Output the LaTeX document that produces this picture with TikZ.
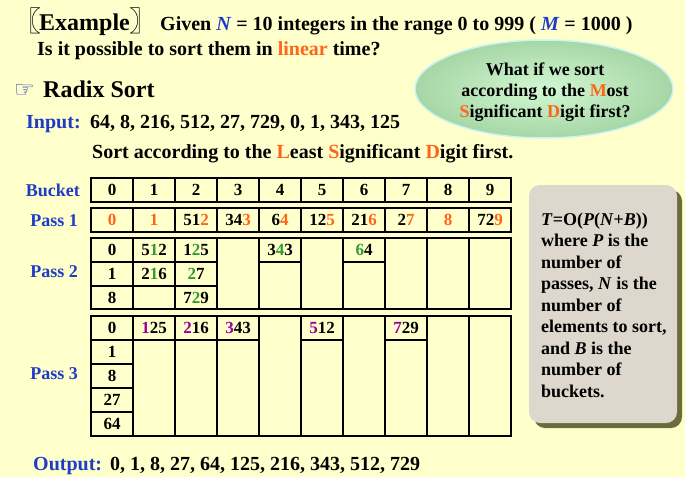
\documentclass[tikz,border=0pt]{standalone}
\usepackage{fontspec}
\setmainfont{Liberation Serif}
\newfontfamily\cjkf{Noto Sans CJK SC}
\newfontfamily\djv{DejaVu Sans}
\usetikzlibrary{shapes.geometric}
\definecolor{bgy}{HTML}{FFFFCC}
\definecolor{orng}{HTML}{FF6418}
\definecolor{blu}{HTML}{1E3CC8}
\definecolor{grn}{HTML}{339933}
\definecolor{pur}{HTML}{990099}
\definecolor{boxc}{HTML}{DDD7CD}
\definecolor{shdc}{HTML}{6B6B3B}
\definecolor{elin}{HTML}{D2F8D2}
\definecolor{elout}{HTML}{A6D6A6}
\definecolor{elbd}{HTML}{C8F4F4}
\newcommand\hlO[1]{\textcolor{orng}{#1}}
\newcommand\hlG[1]{\textcolor{grn}{#1}}
\newcommand\hlP[1]{\textcolor{pur}{#1}}
\tikzset{
  txt/.style={anchor=base west,inner sep=0pt,font=\bfseries\fontsize{20}{24}\selectfont},
  big/.style={anchor=base west,inner sep=0pt,font=\bfseries\fontsize{24}{28}\selectfont},
  cell/.style={inner sep=0pt,font=\bfseries\fontsize{17}{20}\selectfont},
  rowlab/.style={anchor=east,inner sep=0pt,text=blu,font=\bfseries\fontsize{18}{20}\selectfont},
  grid/.style={line width=2.6pt,line cap=rect},
  brk/.style={inner sep=0pt,font=\cjkf\fontsize{28}{30}\selectfont},
}
\begin{document}
\begin{tikzpicture}[x=1pt,y=-1pt]
\useasboundingbox (0,0) rectangle (685,477);
\fill[bgy] (0,0) rectangle (685,477);
% title
\node[brk,anchor=base east] (lbr) at (42,31) {〖};
\node[big] (ex) at (39,30) {Example};
\node[brk,anchor=base west] (rbr) at (129,31) {〗};
\node[txt] (given) at (160,30) {Given \textcolor{blu}{\textit{N}} = 10 integers in the range 0 to 999 ( \textcolor{blu}{\textit{M}} = 1000 )};
\node[txt] (q1) at (37,55) {Is it possible to sort them in \hlO{linear} time?};
\node[anchor=base west,inner sep=0pt,text=blu,font=\djv\fontsize{23}{26}\selectfont] (hand) at (14,97) {☞};
\node[big] (radix) at (43,97) {Radix Sort};
\node[txt,text=blu] (inp) at (26,128) {Input:};
\node[txt] (inpv) at (90,128) {64, 8, 216, 512, 27, 729, 0, 1, 343, 125};
\node[txt] (lsd) at (92,158) {Sort according to the \hlO{L}east \hlO{S}ignificant \hlO{D}igit first.};
\node[txt,text=blu] (outl) at (33,470) {Output:};
\node[txt] (outv) at (110,470) {0, 1, 8, 27, 64, 125, 216, 343, 512, 729};
% ellipse
\shade[inner color=elin, outer color=elout] (544,89) ellipse [x radius=129, y radius=49];
\draw[elbd,line width=1.5pt] (544,89) ellipse [x radius=129, y radius=49];
\node[anchor=base,inner sep=0pt,align=center,font=\bfseries\fontsize{18}{21}\selectfont] (msd) at (545,117) {What if we sort\\according to the \hlO{M}ost\\\hlO{S}ignificant \hlO{D}igit first?};
% complexity box
\fill[shdc,rounded corners=11] (534,190) rectangle (682,428);
\fill[boxc,rounded corners=11] (529,185) rectangle (677,423);
\node[anchor=base west,inner sep=0pt,align=left,font=\bfseries\fontsize{18}{21.5}\selectfont] (cx) at (541,397) {\textit{T}=O(\textit{P}(\textit{N}+\textit{B}))\\where \textit{P} is the\\number of\\passes, \textit{N} is the\\number of\\elements to sort,\\and \textit{B} is the\\number of\\buckets.};
% row labels
\node[rowlab] (lb) at (80,190) {Bucket};
\node[rowlab] (l1) at (78,221) {Pass 1};
\node[rowlab] (l2) at (78,272) {Pass 2};
\node[rowlab] (l3) at (78,374) {Pass 3};
% grids
\draw[grid] (91,178) rectangle (511,202);
\draw[grid] (91,208) rectangle (511,232);
\draw[grid] (91,238) rectangle (511,309);
\draw[grid] (91,316) rectangle (511,436);
\foreach \i in {1,...,9}{
  \draw[grid] ({91+42*\i},178) -- ({91+42*\i},202);
  \draw[grid] ({91+42*\i},208) -- ({91+42*\i},232);
  \draw[grid] ({91+42*\i},238) -- ({91+42*\i},309);
  \draw[grid] ({91+42*\i},316) -- ({91+42*\i},436);
}
\draw[grid] (91,262) -- (217,262);
\draw[grid] (259,262) -- (301,262);
\draw[grid] (343,262) -- (385,262);
\draw[grid] (91,286) -- (217,286);
\draw[grid] (91,340) -- (259,340);
\draw[grid] (301,340) -- (343,340);
\draw[grid] (385,340) -- (427,340);
\draw[grid] (91,364) -- (133,364);
\draw[grid] (91,388) -- (133,388);
\draw[grid] (91,412) -- (133,412);
% bucket header
\foreach \i in {0,...,9}{ \node[cell] (b\i) at ({112+42*\i},190) {\i}; }
% pass 1
\node[cell] (p10) at (112,220) {\hlO{0}};
\node[cell] (p11) at (154,220) {\hlO{1}};
\node[cell] (p12) at (196,220) {51\hlO{2}};
\node[cell] (p13) at (238,220) {34\hlO{3}};
\node[cell] (p14) at (280,220) {6\hlO{4}};
\node[cell] (p15) at (322,220) {12\hlO{5}};
\node[cell] (p16) at (364,220) {21\hlO{6}};
\node[cell] (p17) at (406,220) {2\hlO{7}};
\node[cell] (p18) at (448,220) {\hlO{8}};
\node[cell] (p19) at (490,220) {72\hlO{9}};
% pass 2
\node[cell] (p2a) at (112,250) {0};
\node[cell] (p2b) at (112,274) {1};
\node[cell] (p2c) at (112,298) {8};
\node[cell] (p2d) at (154,250) {5\hlG{1}2};
\node[cell] (p2e) at (154,274) {2\hlG{1}6};
\node[cell] (p2f) at (196,250) {1\hlG{2}5};
\node[cell] (p2g) at (196,274) {\hlG{2}7};
\node[cell] (p2h) at (196,298) {7\hlG{2}9};
\node[cell] (p2i) at (280,250) {3\hlG{4}3};
\node[cell] (p2j) at (364,250) {\hlG{6}4};
% pass 3
\node[cell] (p3a) at (112,328) {0};
\node[cell] (p3b) at (112,352) {1};
\node[cell] (p3c) at (112,376) {8};
\node[cell] (p3d) at (112,400) {27};
\node[cell] (p3e) at (112,424) {64};
\node[cell] (p3f) at (154,328) {\hlP{1}25};
\node[cell] (p3g) at (196,328) {\hlP{2}16};
\node[cell] (p3h) at (238,328) {\hlP{3}43};
\node[cell] (p3i) at (322,328) {\hlP{5}12};
\node[cell] (p3j) at (406,328) {\hlP{7}29};
\end{tikzpicture}
\end{document}
